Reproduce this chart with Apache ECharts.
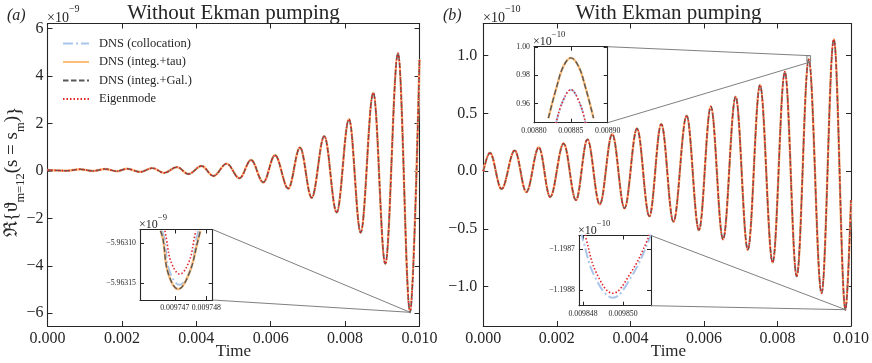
<!DOCTYPE html>
<html><head><meta charset="utf-8">
<script src="https://cdn.jsdelivr.net/npm/echarts@6/dist/echarts.min.js"></script>
<style>html,body{margin:0;padding:0;background:#fff}#c{width:872px;height:363px}</style>
</head><body><div id="c"></div>
<script>
// ---------------- data ----------------
const seriesNames = ['DNS (collocation)', 'DNS (integ.+tau)', 'DNS (integ.+Gal.)', 'Eigenmode'];
const xTicks = [0, 0.002, 0.004, 0.006, 0.008, 0.010];
const yTicksA = [-6, -4, -2, 0, 2, 4, 6];
const yTicksB = [-1.0, -0.5, 0.0, 0.5, 1.0];

// panel (a): extrema of the signal (x1e-9)
const timeA = [0, 0.000524, 0.000874, 0.001223, 0.001546, 0.001868, 0.002137, 0.002487, 0.002823, 0.003132,
  0.003481, 0.00379, 0.004142, 0.004462, 0.004817, 0.005161, 0.00547, 0.005801, 0.006116, 0.006473,
  0.006788, 0.007102, 0.007441, 0.007774, 0.008105, 0.008419, 0.008758, 0.009081, 0.009422, 0.009747, 0.0100];
const valueA = [0.04, 0.01, 0.07, 0.0, 0.08, -0.01, 0.09, -0.04, 0.12, -0.08,
  0.16, -0.13, 0.21, -0.21, 0.31, -0.31, 0.46, -0.48, 0.66, -0.74,
  0.99, -1.13, 1.47, -1.75, 2.18, -2.6, 3.3, -3.92, 4.96, -5.963, 4.7];

// panel (b): extrema of the signal (x1e-10)
const timeB = [0, 0.00018, 0.000496, 0.000855, 0.001171, 0.001511, 0.001818, 0.002185, 0.00252, 0.002832,
  0.003167, 0.003507, 0.003841, 0.004181, 0.004516, 0.00484, 0.005171, 0.00553, 0.005865, 0.006188,
  0.00652, 0.006863, 0.007194, 0.007526, 0.007869, 0.008201, 0.008524, 0.00885, 0.009199, 0.009533, 0.00985, 0.0100];
const valueB = [0.0, 0.16, -0.154, 0.18, -0.18, 0.207, -0.223, 0.24, -0.25, 0.276,
  -0.287, 0.322, -0.32, 0.37, -0.39, 0.41, -0.437, 0.48, -0.51, 0.56,
  -0.59, 0.645, -0.68, 0.746, -0.79, 0.86, -0.91, 0.969, -1.057, 1.142, -1.1988, -0.25];

// inset (a): minimum near t = 0.009747
const insetAXRange = [0.0097459, 0.0097482];
const insetAYRange = [-5.963171, -5.9630834];
const insetAXTicks = [0.009747, 0.009748];
const insetAYTicks = [-5.96315, -5.96310];
const insetATimeDNS = [0.00974655, 0.00974663, 0.00974679, 0.00974711, 0.00974746, 0.00974774, 0.00974781];
const insetAValueDNS = [-5.963085, -5.9630959, -5.9631375, -5.9631575, -5.9631375, -5.9630959, -5.963085];
const insetATimeColl = [0.0097466, 0.00974668, 0.00974682, 0.00974715, 0.0097475, 0.00974768, 0.00974775];
const insetAValueColl = [-5.963085, -5.9630959, -5.9631334, -5.9631521, -5.9631334, -5.9630959, -5.963085];
const insetATimeEig = [0.00974669, 0.00974674, 0.00974688, 0.00974716, 0.00974745, 0.00974761, 0.00974766];
const insetAValueEig = [-5.963085, -5.9630959, -5.9631234, -5.9631388, -5.9631234, -5.9630959, -5.963085];

// inset (b) top: maximum near t = 0.00885
const insetB1XRange = [0.00880, 0.00890];
const insetB1YRange = [0.9464, 1.0003];
const insetB1XTicks = [0.00880, 0.00885, 0.00890];
const insetB1YTicks = [0.96, 0.98, 1.00];
const insetB1TimeDNS = [0.0088195, 0.0088309, 0.0088399, 0.00885, 0.0088604, 0.0088695, 0.0088808];
const insetB1ValueDNS = [0.9496, 0.9721, 0.9864, 0.9924, 0.9864, 0.9721, 0.9496];
const insetB1TimeEig = [0.008830, 0.008838, 0.00885, 0.008862, 0.00887];
const insetB1ValueEig = [0.946, 0.9603, 0.9698, 0.9603, 0.946];

// inset (b) bottom: minimum near t = 0.00985
const insetB2XRange = [0.0098478, 0.0098514];
const insetB2YRange = [-1.1988386, -1.198666];
const insetB2XTicks = [0.009848, 0.009850];
const insetB2YTicks = [-1.1988, -1.1987];
const insetB2TimeColl = [0.0098479, 0.009848, 0.00984859, 0.00984949, 0.00985042, 0.0098513, 0.0098514];
const insetB2ValueColl = [-1.198655, -1.1986771, -1.1987673, -1.1988189, -1.1987673, -1.1986771, -1.198655];
const insetB2TimeEig = [0.0098481, 0.00984817, 0.00984868, 0.00984949, 0.00985037, 0.00985122, 0.0098513];
const insetB2ValueEig = [-1.198655, -1.1986771, -1.198759, -1.1988081, -1.198759, -1.1986771, -1.198655];

// ---------------- chart ----------------
const SERIF = '"Liberation Serif", "DejaVu Serif", serif';
const INK = '#262626';
const styles = [
  { color: '#a7c5ea', width: 2, type: [10, 3, 2, 3] },
  { color: '#ffbd7a', width: 2.4, type: 'solid' },
  { color: '#585858', width: 1.4, type: [5.5, 2.5] },
  { color: '#e2262b', width: 1.6, type: [1.5, 2] }
];
const zip = (t, v) => t.map((x, i) => [x, v[i]]);
const minus = s => s.replace('-', '\u2212');

function axisPair(kind, gridIndex, range, ticks, fmt, fs, margin, tickLen) {
  const base = {
    type: 'value', gridIndex, min: range[0], max: range[1], scale: true,
    axisLine: { show: true, onZero: false, lineStyle: { color: INK, width: 1.1 } },
    axisTick: { show: true, inside: true, length: tickLen, customValues: ticks, lineStyle: { color: INK, width: 1 } },
    splitLine: { show: false }
  };
  const main = Object.assign({}, base, {
    position: kind === 'x' ? 'bottom' : 'left',
    axisLabel: { show: true, customValues: ticks, formatter: fmt, fontSize: fs, fontFamily: SERIF, color: INK, margin,
      hideOverlap: false, showMinLabel: true, showMaxLabel: true }
  });
  const mirror = Object.assign({}, base, { position: kind === 'x' ? 'top' : 'right', axisLabel: { show: false } });
  return [main, mirror];
}

const grids = [
  { left: 47.5, top: 23.5, width: 372, height: 302.5 },
  { left: 483.3, top: 23.5, width: 370.7, height: 302.5 },
  { left: 140, top: 229.5, width: 72.7, height: 70.5, backgroundColor: '#fff', show: true, borderWidth: 0 },
  { left: 534, top: 46.7, width: 73.7, height: 76, backgroundColor: '#fff', show: true, borderWidth: 0 },
  { left: 579, top: 235.5, width: 72, height: 70.2, backgroundColor: '#fff', show: true, borderWidth: 0 }
];

const fmtX3 = v => v.toFixed(3);
const fmtYA = v => v === 0 ? '0' : minus(String(v));
const fmtYB = v => minus(v.toFixed(1));
const IFS = 7.8;
const xAxes = [].concat(
  axisPair('x', 0, [0, 0.01], xTicks, fmtX3, 16, 5, 5),
  axisPair('x', 1, [0, 0.01], xTicks, fmtX3, 16, 5, 5),
  axisPair('x', 2, insetAXRange, insetAXTicks, v => v.toFixed(6), IFS, 4, 4),
  axisPair('x', 3, insetB1XRange, insetB1XTicks, v => v.toFixed(5), IFS, 4, 4),
  axisPair('x', 4, insetB2XRange, insetB2XTicks, v => v.toFixed(6), IFS, 4, 4)
);
const yAxes = [].concat(
  axisPair('y', 0, [-6.54, 6.22], yTicksA, fmtYA, 16, 4, 5),
  axisPair('y', 1, [-1.34, 1.279], yTicksB, fmtYB, 16, 6, 5),
  axisPair('y', 2, insetAYRange, insetAYTicks, v => minus(v.toFixed(5)), IFS, 4, 4),
  axisPair('y', 3, insetB1YRange, insetB1YTicks, v => v.toFixed(2), IFS, 4, 4),
  axisPair('y', 4, insetB2YRange, insetB2YTicks, v => minus(v.toFixed(4)), IFS, 4, 4)
);

function mk(name, axis, data, smooth, mono) {
  const s = styles[seriesNames.indexOf(name)];
  return {
    type: 'line', name, xAxisIndex: axis, yAxisIndex: axis, data, symbol: 'none',
    smooth, smoothMonotone: mono ? 'x' : undefined, clip: true, silent: true,
    lineStyle: { color: s.color, width: s.width, type: s.type },
    itemStyle: { color: s.color }, z: 2 + seriesNames.indexOf(name)
  };
}
const series = [];
const dataA = zip(timeA, valueA), dataB = zip(timeB, valueB);
seriesNames.forEach(n => { series.push(mk(n, 0, dataA, 0.363, true)); });
seriesNames.forEach(n => { series.push(mk(n, 2, dataB, 0.363, true)); });
// inset a
series.push(mk(seriesNames[0], 4, zip(insetATimeColl, insetAValueColl), 0.4, false));
series.push(mk(seriesNames[1], 4, zip(insetATimeDNS, insetAValueDNS), 0.4, false));
series.push(mk(seriesNames[2], 4, zip(insetATimeDNS, insetAValueDNS), 0.4, false));
series.push(mk(seriesNames[3], 4, zip(insetATimeEig, insetAValueEig), 0.4, false));
// inset b top
series.push(mk(seriesNames[0], 6, zip(insetB1TimeEig, insetB1ValueEig), 0.4, false));
series.push(mk(seriesNames[1], 6, zip(insetB1TimeDNS, insetB1ValueDNS), 0.4, false));
series.push(mk(seriesNames[2], 6, zip(insetB1TimeDNS, insetB1ValueDNS), 0.4, false));
series.push(mk(seriesNames[3], 6, zip(insetB1TimeEig, insetB1ValueEig), 0.4, false));
// inset b bottom
series.push(mk(seriesNames[0], 8, zip(insetB2TimeColl, insetB2ValueColl), 0.4, false));
series.push(mk(seriesNames[3], 8, zip(insetB2TimeEig, insetB2ValueEig), 0.4, false));

const chart = echarts.init(document.getElementById('c'), null, { renderer: 'canvas' });
chart.setOption({
  animation: false,
  backgroundColor: '#fff',
  textStyle: { fontFamily: SERIF },
  grid: grids,
  xAxis: xAxes,
  yAxis: yAxes,
  legend: {
    data: seriesNames, orient: 'vertical', left: 57, top: 32,
    itemWidth: 26, itemHeight: 12, itemGap: 5.5,
    itemStyle: { color: 'rgba(0,0,0,0)', borderWidth: 0, opacity: 0 },
    textStyle: { fontFamily: 'Liberation Serif', fontSize: 12.5, color: INK, padding: [0, 0, 0, 5] }
  },
  series
});

// ---------------- texts & inset markers ----------------
const P = (ax, pt) => chart.convertToPixel({ xAxisIndex: ax, yAxisIndex: ax }, pt);
const G = '#808080';
const gfx = [];
function connector(insetAx, mainAx, xr, yr) {
  const tr = P(insetAx, [xr[1], yr[1]]), br = P(insetAx, [xr[1], yr[0]]);
  const mtr = P(mainAx, [xr[1], yr[1]]), mbr = P(mainAx, [xr[1], yr[0]]), mbl = P(mainAx, [xr[0], yr[0]]);
  gfx.push({ type: 'line', shape: { x1: tr[0], y1: tr[1], x2: mtr[0], y2: mtr[1] }, style: { stroke: G, lineWidth: 1 }, z: 50 });
  gfx.push({ type: 'line', shape: { x1: br[0], y1: br[1], x2: mbr[0], y2: mbr[1] }, style: { stroke: G, lineWidth: 1 }, z: 50 });
  gfx.push({ type: 'rect', shape: { x: mbl[0], y: mtr[1], width: Math.max(mtr[0] - mbl[0], 0.5), height: Math.max(mbr[1] - mtr[1], 0.5) },
    style: { fill: 'none', stroke: G, lineWidth: 1 }, z: 50 });
}
connector(4, 0, insetAXRange, insetAYRange);
connector(6, 2, insetB1XRange, insetB1YRange);
connector(8, 2, insetB2XRange, insetB2YRange);

function txt(x, y, text, opt) {
  gfx.push({ type: 'text', x, y, z: 60,
    style: { text, fill: INK, font: opt.font, textAlign: opt.align || 'left', textVerticalAlign: 'middle' } });
}
function mult(x, y, exp, fs) {
  gfx.push({ type: 'text', x, y, z: 60, style: {
    text: '{a|\u00d710}{b|' + exp + '}', textVerticalAlign: 'middle',
    rich: {
      a: { fontFamily: SERIF, fontSize: fs, lineHeight: fs * 1.5, verticalAlign: 'bottom', fill: INK },
      b: { fontFamily: SERIF, fontSize: fs * 0.72, lineHeight: fs * 0.9, verticalAlign: 'top', fill: INK }
    } } });
}
txt(233.5, 13, 'Without Ekman pumping', { font: '21px ' + SERIF, align: 'center' });
txt(668.5, 13, 'With Ekman pumping', { font: '21px ' + SERIF, align: 'center' });
txt(7, 16, '(a)', { font: 'italic 16px ' + SERIF });
txt(443, 16, '(b)', { font: 'italic 16px ' + SERIF });
txt(233.5, 352, 'Time', { font: '17px ' + SERIF, align: 'center' });
txt(668.5, 352, 'Time', { font: '17px ' + SERIF, align: 'center' });
mult(47, 15, '\u22129', 14);
mult(483, 15, '\u221210', 14);
mult(139, 222, '\u22129', 12);
mult(533, 39, '\u221210', 12);
mult(578, 228, '\u221210', 12);
// y axis title
gfx.push({ type: 'text', x: 15, y: 172, rotation: Math.PI / 2, z: 60, style: {
  text: '{a|\u211c{\u03d1}{s|m=12}{a|(s = s}{s|m}{a|)}}', textAlign: 'center', textVerticalAlign: 'middle',
  fontFamily: SERIF, fontSize: 19, fill: INK,
  rich: {
    a: { fontFamily: SERIF, fontSize: 19, lineHeight: 24, verticalAlign: 'top', fill: INK },
    s: { fontFamily: SERIF, fontSize: 12.5, lineHeight: 16, verticalAlign: 'bottom', fill: INK }
  } } });
chart.setOption({ graphic: gfx });
</script>
</body></html>
